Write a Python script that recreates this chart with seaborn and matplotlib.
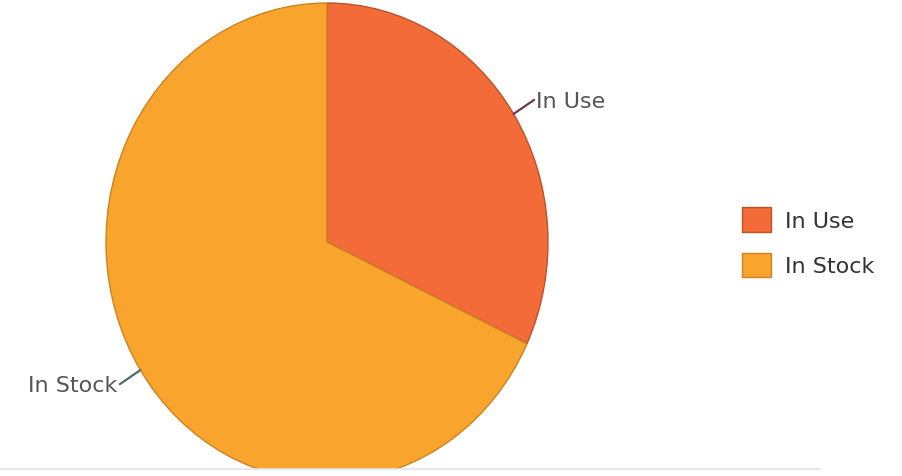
import numpy as np
import matplotlib
matplotlib.use("Agg")
import matplotlib.pyplot as plt
import seaborn as sns

# values (share of items)
labels = ["In Use", "In Stock"]
values = [32, 68]
colors = ["#F26B38", "#F9A52D"]
edges = ["#B8552C", "#C98422"]
leader_colors = ["#6A3A50", "#4F6D6D"]

sns.set_theme(style="white")
plt.rcParams['font.family'] = ['DejaVu Sans']

fig = plt.figure(figsize=(9.03, 4.77), dpi=100)
ax = fig.add_axes([0, 7 / 477, 1, 470 / 477])

wedges, _ = ax.pie(values, colors=colors, startangle=90, counterclock=False,
                   wedgeprops=dict(linewidth=1.0))
for w, ec in zip(wedges, edges):
    w.set_edgecolor(ec)
    w.set_clip_on(True)  # bottom of the pie is cut off in the reference

# pie is drawn a bit taller than wide in the reference
ax.set_aspect('auto')
ax.set_xlim(-327 / 221, -327 / 221 + 903 / 221)
ymin = -(470 - 243) / 239
ax.set_ylim(ymin, ymin + 470 / 239)
ax.axis('off')

# outside labels with short leader lines
for w, lab, lc in zip(wedges, labels, leader_colors):
    ang = np.deg2rad((w.theta1 + w.theta2) / 2)
    x0, y0 = np.cos(ang), np.sin(ang)
    x1, y1 = 1.11 * x0, 1.11 * y0
    ax.plot([1.0 * x0, x1], [1.0 * y0, y1], color=lc, lw=1.6, solid_capstyle='round')
    ha = 'left' if x0 > 0 else 'right'
    ax.text(x1 + (0.01 if x0 > 0 else -0.01), y1 - 0.005, lab, ha=ha, va='center',
            fontsize=16, color='#555555')

# legend
handles = [plt.Rectangle((0, 0), 1, 1, facecolor=c, edgecolor=e, lw=1)
           for c, e in zip(colors, edges)]
leg = fig.legend(handles, labels, loc='center left', bbox_to_anchor=(0.8, 0.49),
                 frameon=False, fontsize=16, handlelength=1.3, handleheight=1.3,
                 labelspacing=0.95, handletextpad=0.6)
for t in leg.get_texts():
    t.set_color('#333333')

# faint bottom border of the screenshot
fig.add_artist(plt.Line2D([0, 820 / 903], [7 / 477, 7 / 477], color='#e4e4e4', lw=1.2,
                          transform=fig.transFigure))

fig.savefig("out.png", dpi=100)
